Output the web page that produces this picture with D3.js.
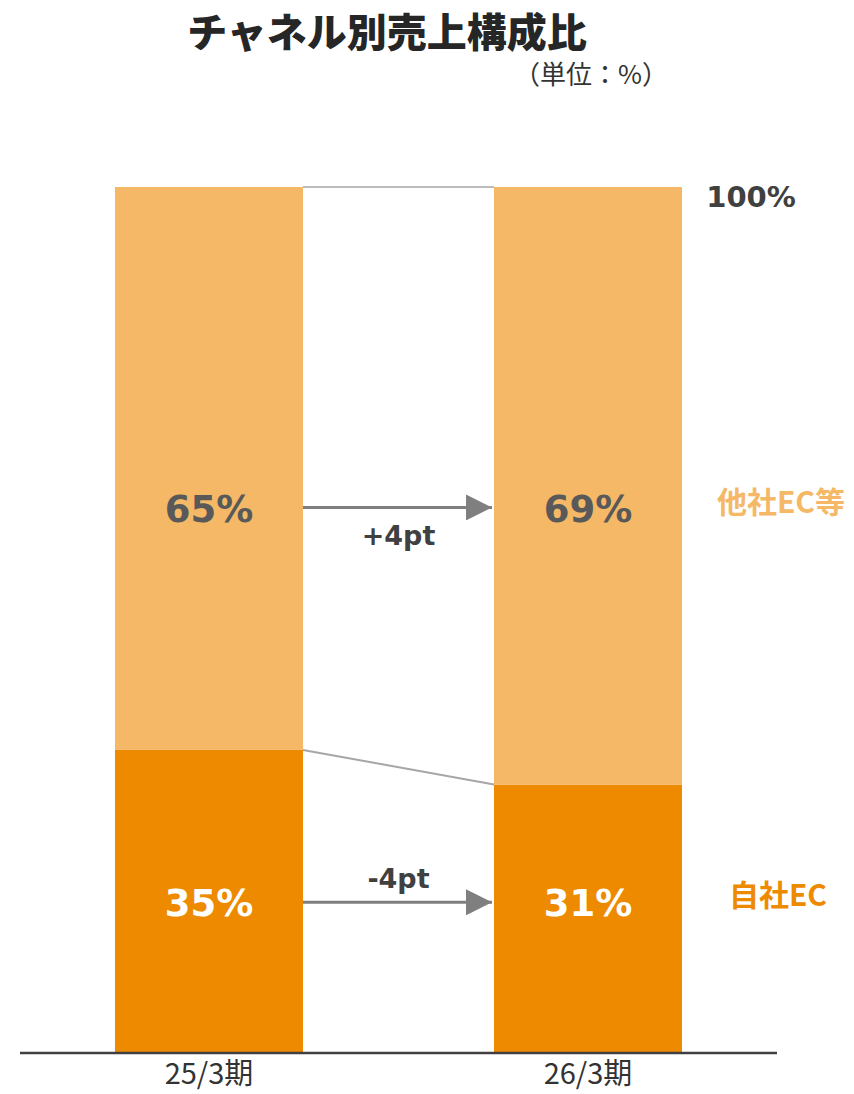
<!DOCTYPE html>
<html>
<head>
<meta charset="utf-8">
<script src="https://cdn.jsdelivr.net/npm/d3@7"></script>
<style>
  body { margin: 0; background: #fff; }
  svg { display: block; }
</style>
</head>
<body>
<script>
// chart values
var categories = ["25/3期", "26/3期"];
var ownEC = [35, 31];
var otherEC = [65, 69];
var changeLabels = ["+4pt", "-4pt"];
var seriesNames = ["他社EC等", "自社EC"];

// canvas and positioning magic numbers
var w = 854;
var h = 1094;
var plotTop = 187;
var plotBottom = 1053;
var upperLabelLevel = 63;   // % level where the upper labels sit
var lowerLabelLevel = 17.4; // % level where the lower labels sit

var lightOrange = "#F4B866";
var darkOrange = "#EE8A00";
var jp = "'Noto Sans CJK JP', 'Noto Sans', sans-serif";
var num = "'DejaVu Sans', Verdana, sans-serif";

var svg = d3.select("body")
    .append("svg")
    .attr("width", w)
    .attr("height", h);

var x = d3.scaleBand()
    .domain(categories)
    .range([115, 682])
    .paddingInner(0.504)
    .paddingOuter(0);

var y = d3.scaleLinear()
    .domain([0, 100])
    .range([plotBottom, plotTop]);

// title
svg.append("text")
    .attr("x", 387).attr("y", 47)
    .attr("text-anchor", "middle")
    .attr("font-family", jp)
    .attr("font-weight", 900)
    .attr("font-size", 40)
    .attr("fill", "#262626")
    .text("チャネル別売上構成比");

svg.append("text")
    .attr("x", 668).attr("y", 84)
    .attr("text-anchor", "end")
    .attr("font-family", jp)
    .attr("font-size", 26)
    .attr("fill", "#333")
    .text("（単位：%）");

// bars
var rows = categories.map(function(c, i) {
    return { cat: c, own: ownEC[i], other: otherEC[i] };
});

svg.selectAll("rect.own")
    .data(rows)
    .enter().append("rect")
    .attr("class", "own")
    .attr("x", function(d) { return x(d.cat); })
    .attr("y", function(d) { return y(d.own); })
    .attr("width", x.bandwidth())
    .attr("height", function(d) { return y(0) - y(d.own); })
    .attr("fill", darkOrange);

svg.selectAll("rect.other")
    .data(rows)
    .enter().append("rect")
    .attr("class", "other")
    .attr("x", function(d) { return x(d.cat); })
    .attr("y", function(d) { return y(d.own + d.other); })
    .attr("width", x.bandwidth())
    .attr("height", function(d) { return y(d.own) - y(d.own + d.other); })
    .attr("fill", lightOrange);

// connector lines between bars
var x0 = x(categories[0]) + x.bandwidth();
var x1 = x(categories[1]);
svg.append("line")
    .attr("x1", x0).attr("y1", y(rows[0].own + rows[0].other))
    .attr("x2", x1).attr("y2", y(rows[1].own + rows[1].other))
    .attr("stroke", "#A6A6A6").attr("stroke-width", 1.5);
svg.append("line")
    .attr("x1", x0).attr("y1", y(rows[0].own))
    .attr("x2", x1).attr("y2", y(rows[1].own))
    .attr("stroke", "#A6A6A6").attr("stroke-width", 2);

// arrows
svg.append("defs").append("marker")
    .attr("id", "arrowhead")
    .attr("viewBox", "0 0 10 10")
    .attr("refX", 10).attr("refY", 5)
    .attr("markerUnits", "userSpaceOnUse")
    .attr("markerWidth", 26).attr("markerHeight", 26)
    .attr("orient", "auto")
    .append("path")
    .attr("d", "M0,0 L10,5 L0,10 Z")
    .attr("fill", "#7F7F7F");

[upperLabelLevel, lowerLabelLevel].forEach(function(lv) {
    svg.append("line")
        .attr("x1", x0).attr("y1", y(lv))
        .attr("x2", x1 - 2).attr("y2", y(lv))
        .attr("stroke", "#7F7F7F").attr("stroke-width", 3)
        .attr("marker-end", "url(#arrowhead)");
});

var midX = (x0 + x1) / 2;
svg.append("text")
    .attr("x", midX).attr("y", y(upperLabelLevel) + 38)
    .attr("text-anchor", "middle")
    .attr("font-family", num).attr("font-weight", "bold").attr("font-size", 27)
    .attr("fill", "#404040")
    .text(changeLabels[0]);
svg.append("text")
    .attr("x", midX).attr("y", y(lowerLabelLevel) - 14)
    .attr("text-anchor", "middle")
    .attr("font-family", num).attr("font-weight", "bold").attr("font-size", 27)
    .attr("fill", "#404040")
    .text(changeLabels[1]);

// value labels
svg.selectAll("text.otherLabel")
    .data(rows)
    .enter().append("text")
    .attr("x", function(d) { return x(d.cat) + x.bandwidth() / 2; })
    .attr("y", y(upperLabelLevel) + 15)
    .attr("text-anchor", "middle")
    .attr("font-family", num).attr("font-weight", "bold").attr("font-size", 37)
    .attr("fill", "#595959")
    .text(function(d) { return d.other + "%"; });

svg.selectAll("text.ownLabel")
    .data(rows)
    .enter().append("text")
    .attr("x", function(d) { return x(d.cat) + x.bandwidth() / 2; })
    .attr("y", y(lowerLabelLevel) + 14)
    .attr("text-anchor", "middle")
    .attr("font-family", num).attr("font-weight", "bold").attr("font-size", 37)
    .attr("fill", "#fff")
    .text(function(d) { return d.own + "%"; });

// right side labels
svg.append("text")
    .attr("x", 751).attr("y", y(100) + 20)
    .attr("text-anchor", "middle")
    .attr("font-family", num).attr("font-weight", "bold").attr("font-size", 29)
    .attr("fill", "#404040")
    .text("100%");
svg.append("text")
    .attr("x", 781).attr("y", y(upperLabelLevel) + 6)
    .attr("text-anchor", "middle")
    .attr("font-family", jp).attr("font-weight", "bold").attr("font-size", 30)
    .attr("fill", lightOrange)
    .text(seriesNames[0]);
svg.append("text")
    .attr("x", 778).attr("y", y(lowerLabelLevel) + 4)
    .attr("text-anchor", "middle")
    .attr("font-family", jp).attr("font-weight", "bold").attr("font-size", 30)
    .attr("fill", darkOrange)
    .text(seriesNames[1]);

// x axis
var axis = svg.append("g")
    .attr("transform", "translate(0," + plotBottom + ")")
    .call(d3.axisBottom(x).tickSize(0).tickPadding(8));
axis.select(".domain").remove();
axis.append("line")
    .attr("x1", 20).attr("x2", 777)
    .attr("stroke", "#404040").attr("stroke-width", 2.5);
axis.selectAll(".tick text")
    .attr("font-family", "'Liberation Sans Narrow', 'Noto Sans CJK JP', sans-serif")
    .attr("font-size", 29)
    .attr("fill", "#333")
    .attr("dy", "0.8em");
</script>
</body>
</html>
